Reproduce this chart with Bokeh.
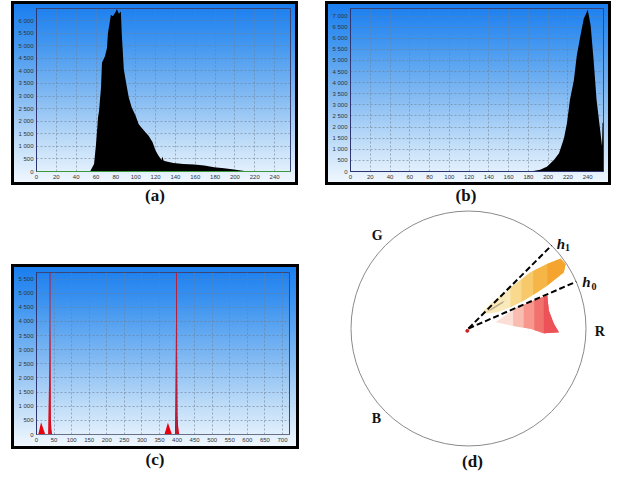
from bokeh.plotting import figure
from bokeh.layouts import row, column
from bokeh.models import Range1d, FixedTicker, Spacer, Div, Span
from bokeh.core.properties import value
from bokeh.embed import file_html
from bokeh.resources import INLINE
import math

# ---------------- data ----------------
x_ticks_ab = [0, 20, 40, 60, 80, 100, 120, 140, 160, 180, 200, 220, 240]
x_labels_ab = ["0", "20", "40", "60", "80", "100", "120", "140", "160", "180", "200", "220", "240"]

y_ticks_a = [0, 500, 1000, 1500, 2000, 2500, 3000, 3500, 4000, 4500, 5000, 5500, 6000]
y_labels_a = ["0", "500", "1 000", "1 500", "2 000", "2 500", "3 000", "3 500", "4 000", "4 500", "5 000", "5 500", "6 000"]

y_ticks_b = [0, 500, 1000, 1500, 2000, 2500, 3000, 3500, 4000, 4500, 5000, 5500, 6000, 6500, 7000]
y_labels_b = ["0", "500", "1 000", "1 500", "2 000", "2 500", "3 000", "3 500", "4 000", "4 500", "5 000", "5 500", "6 000", "6 500", "7 000"]

x_ticks_c = [0, 50, 100, 150, 200, 250, 300, 350, 400, 450, 500, 550, 600, 650, 700]
x_labels_c = ["0", "50", "100", "150", "200", "250", "300", "350", "400", "450", "500", "550", "600", "650", "700"]
y_ticks_c = [0, 500, 1000, 1500, 2000, 2500, 3000, 3500, 4000, 4500, 5000, 5500]
y_labels_c = ["0", "500", "1 000", "1 500", "2 000", "2 500", "3 000", "3 500", "4 000", "4 500", "5 000", "5 500"]

# (a) histogram
a_x = [0, 54, 56, 58, 60, 62, 63, 65, 66, 69, 71, 72, 75, 77, 80, 81, 83, 85, 86, 88,
       90, 93, 96, 100, 103, 107, 110, 113, 117, 120, 123, 126, 127, 128, 130, 138, 148, 159, 169, 179,
       189, 199, 206, 213, 256]
a_y = [0, 0, 150, 300, 1090, 2150, 2400, 3330, 4320, 4580, 4910, 5500, 6230, 6170, 6360, 6460, 6270, 6360, 5440, 4060,
       3600, 2940, 2540, 2210, 1880, 1690, 1550, 1420, 1160, 830, 630, 460, 600, 440, 410, 340, 300, 275, 240, 170,
       130, 80, 40, 0, 0]

# (b) histogram
b_x = [0, 182, 192, 199, 206, 211, 216, 219, 222, 226, 229, 233, 236, 239, 240, 243, 246, 249, 253, 254.5, 255, 256]
b_y = [0, 0, 76, 225, 525, 825, 1500, 2170, 3215, 4110, 5230, 6200, 6880, 7170, 7300, 6580, 5010, 3215, 1720, 1150, 2200, 2200]

# (c) histogram
c_x = [0, 5, 13, 25, 33, 35, 37, 38, 39.5, 41, 42.5, 44.5, 360, 364, 374, 385.5, 394, 396, 397.7, 399.6, 401.5, 403, 406, 720]
c_y = [0, 0, 430, 0, 0, 1390, 2620, 3970, 3260, 500, 200, 0, 0, 0, 420, 0, 0, 2600, 4910, 3300, 720, 300, 0, 0]
c_spike_x = [38.5, 398.5]
c_spike_y = [5730, 5730]

# (d) hue circle (unit circle = outer ring); colour clusters as layered regions
orange_xs = [
    [0.13, 0.20, 0.357, 0.528, 0.67, 0.783, 0.826, 0.811, 0.67, 0.585, 0.471, 0.357, 0.244, 0.145],
    [0.357, 0.528, 0.67, 0.783, 0.826, 0.811, 0.67, 0.585, 0.471, 0.357],
    [0.45, 0.528, 0.67, 0.783, 0.826, 0.811, 0.67, 0.585, 0.471, 0.45],
    [0.55, 0.67, 0.783, 0.826, 0.811, 0.67, 0.585, 0.55],
    [0.67, 0.783, 0.826, 0.811, 0.67],
]
orange_ys = [
    [0.153, 0.224, 0.346, 0.479, 0.55, 0.593, 0.55, 0.479, 0.366, 0.309, 0.238, 0.181, 0.139, 0.125],
    [0.346, 0.479, 0.55, 0.593, 0.55, 0.479, 0.366, 0.309, 0.238, 0.181],
    [0.418, 0.479, 0.55, 0.593, 0.55, 0.479, 0.366, 0.309, 0.238, 0.227],
    [0.49, 0.55, 0.593, 0.55, 0.479, 0.366, 0.309, 0.287],
    [0.55, 0.593, 0.55, 0.479, 0.366],
]
orange_colors = ["#fae8b6", "#f9d88a", "#f8c868", "#f6b446", "#f4a42e"]

pink_xs = [
    [0.23, 0.414, 0.556, 0.67, 0.683, 0.726, 0.769, 0.641, 0.528, 0.357],
    [0.38, 0.414, 0.556, 0.67, 0.683, 0.726, 0.769, 0.641, 0.528, 0.38],
    [0.47, 0.556, 0.67, 0.683, 0.726, 0.769, 0.641, 0.528, 0.47],
    [0.56, 0.67, 0.683, 0.726, 0.769, 0.641, 0.56],
    [0.64, 0.67, 0.683, 0.726, 0.769, 0.641],
]
pink_ys = [
    [0.054, 0.181, 0.238, 0.281, 0.153, 0.04, -0.031, -0.04, -0.003, 0.026],
    [0.158, 0.181, 0.238, 0.281, 0.153, 0.04, -0.031, -0.04, -0.003, 0.022],
    [0.203, 0.238, 0.281, 0.153, 0.04, -0.031, -0.04, -0.003, 0.007],
    [0.24, 0.281, 0.153, 0.04, -0.031, -0.04, -0.013],
    [0.27, 0.281, 0.153, 0.04, -0.031, -0.04],
]
pink_colors = ["#fbdcd4", "#f8baae", "#f5948a", "#f0706c", "#eb5056"]

smudge_x = [0.15, 0.24, 0.31, 0.29, 0.20]
smudge_y = [0.14, 0.20, 0.24, 0.215, 0.16]
hue_angles = [23.5, 45.0]          # h0, h1 (degrees)
axis_names = ["R", "G", "B"]
axis_label_x = [1.117, -0.777, -0.783]
axis_label_y = [-0.023, 0.791, -0.769]

GRADIENT = ("linear-gradient(to bottom, #177cef 0%, #3f95f0 22%, #7fb8f2 50%, "
            "#c2def8 78%, #f3f9ff 100%)")


def hist_fig(w, h, xr, yr, xt, xl, yt, yl, bl, br, bt, bb, base_color):
    p = figure(width=w, height=h, x_range=Range1d(*xr), y_range=Range1d(*yr),
               output_backend="svg", toolbar_location=None,
               min_border_left=bl, min_border_right=br, min_border_top=bt, min_border_bottom=bb)
    p.margin = 0
    p.background_fill_color = None
    p.border_fill_color = None
    p.styles = {"background": GRADIENT, "outline": "3px solid #000", "outline-offset": "-3px"}
    p.outline_line_color = "#3a4578"
    p.outline_line_width = 1
    p.xaxis.ticker = FixedTicker(ticks=xt)
    p.yaxis.ticker = FixedTicker(ticks=yt)
    p.xaxis.major_label_overrides = {t: s for t, s in zip(xt, xl)}
    p.yaxis.major_label_overrides = {t: s for t, s in zip(yt, yl)}
    for ax in (p.xaxis[0], p.yaxis[0]):
        ax.major_tick_line_color = None
        ax.minor_tick_line_color = None
        ax.major_tick_in = 0
        ax.major_tick_out = 0
        ax.minor_tick_out = 0
        ax.major_label_text_font_size = "6px"
        ax.major_label_text_font = "Liberation Sans"
        ax.major_label_text_color = "#333333"
        ax.major_label_standoff = 3
    p.yaxis.axis_line_color = "#2c3570"
    p.xaxis.axis_line_color = base_color
    p.grid.grid_line_color = "#6f7f92"
    p.grid.grid_line_dash = "2 2"
    p.grid.grid_line_alpha = 0.6
    return p


# (a)
pa = hist_fig(287, 184, (0, 256), (0, 6480), x_ticks_ab, x_labels_ab, y_ticks_a, y_labels_a,
              25, 8, 6, 14, "#3c9a3c")
pa.varea(x=a_x, y1=0, y2=a_y, color="#000000")
pa.add_layout(Span(location=0, dimension="width", line_color="#3c9a3c", line_width=1))

# (b)
pb = hist_fig(286, 184, (0, 256), (0, 7340), x_ticks_ab, x_labels_ab, y_ticks_b, y_labels_b,
              25, 8, 7, 13, "#2c3570")
pb.varea(x=b_x, y1=0, y2=b_y, color="#000000")

# (c)
pc = hist_fig(288, 185, (0, 720), (0, 5730), x_ticks_c, x_labels_c, y_ticks_c, y_labels_c,
              25, 10, 8, 15, "#6a7088")
pc.varea(x=c_x, y1=0, y2=c_y, color="#e8000a")
pc.segment(x0=c_spike_x, y0=0, x1=c_spike_x, y1=c_spike_y, line_color="#b8203c", line_width=1)

# (d)
R_PX = 117.5
wd, hd = 307, 270
cx_px, cy_px = 158, 121
pd_ = figure(width=wd, height=hd,
             x_range=Range1d(-cx_px / R_PX, (wd - cx_px) / R_PX),
             y_range=Range1d(-(hd - cy_px) / R_PX, cy_px / R_PX),
             output_backend="svg", toolbar_location=None,
             min_border=0, min_border_left=0, min_border_right=0, min_border_top=0, min_border_bottom=0)
pd_.margin = 0
pd_.axis.visible = False
pd_.grid.visible = False
pd_.outline_line_color = None
pd_.background_fill_color = None
pd_.border_fill_color = None

pd_.circle(x=[0], y=[0], radius=1.0, fill_color=None, line_color="#8a8a8a", line_width=1)
pd_.patches(xs=orange_xs, ys=orange_ys, fill_color=orange_colors, line_color=None, fill_alpha=0.95)
pd_.patch(smudge_x, smudge_y, fill_color="#5a5040", line_color=None, fill_alpha=0.4)
pd_.patches(xs=pink_xs, ys=pink_ys, fill_color=pink_colors, line_color=None, fill_alpha=0.95)

ends_x = [math.cos(math.radians(a)) * 1.0 for a in hue_angles]
ends_y = [math.sin(math.radians(a)) * 1.0 for a in hue_angles]
pd_.segment(x0=[0, 0], y0=[0, 0], x1=ends_x, y1=ends_y, line_color="#000000",
            line_width=2, line_dash="6 3")
pd_.scatter(x=[-0.01], y=[-0.02], size=3, color="#d02020")

pd_.text(x=axis_label_x, y=axis_label_y, text=axis_names, text_font=value("Liberation Serif"),
         text_font_style="bold", text_font_size="14px", text_align="center",
         text_baseline="middle", text_color="#111111")
# h labels
pd_.text(x=[(560.5 - 468) / R_PX, (586 - 468) / R_PX], y=[(328 - 243) / R_PX, (328 - 281) / R_PX],
         text=["h", "h"], text_font=value("Liberation Serif"), text_font_style="bold italic",
         text_font_size="15px", text_align="center", text_baseline="middle", text_color="#111111")
pd_.text(x=[(567 - 468) / R_PX, (593.5 - 468) / R_PX], y=[(328 - 247) / R_PX, (328 - 286) / R_PX],
         text=["1", "0"], text_font=value("Liberation Serif"), text_font_style="bold",
         text_font_size="10px", text_align="center", text_baseline="middle", text_color="#111111")
pd_.text(x=[(472 - 468) / R_PX], y=[(328 - 461) / R_PX], text=["(d)"],
         text_font=value("Liberation Serif"), text_font_style="bold", text_font_size="17px",
         text_align="center", text_baseline="middle", text_color="#111111")


def caption(txt, w, h, pad_left=0):
    return Div(text=('<div style="width:%dpx;text-align:center;font-family:\'Liberation Serif\';'
                     'font-weight:bold;font-size:17px;line-height:22px;padding-left:%dpx;'
                     'box-sizing:border-box;color:#111">%s</div>') % (w, pad_left, txt),
               width=w, height=h, margin=0)


top_row = row(Spacer(width=11, height=184, margin=0), pa, Spacer(width=27, height=184, margin=0), pb,
              spacing=0, margin=0)
cap_row = row(caption("(a)", 310, 22), caption("(b)", 307, 22, 5), spacing=0, margin=0)
left_bottom = column(Spacer(width=310, height=57, margin=0),
                     row(Spacer(width=11, height=185, margin=0), pc, Spacer(width=11, height=185, margin=0),
                         spacing=0, margin=0),
                     caption("(c)", 310, 28),
                     spacing=0, margin=0)
bottom_row = row(left_bottom, pd_, spacing=0, margin=0)
layout = column(Spacer(width=617, height=1, margin=0), top_row, cap_row, bottom_row, spacing=0, margin=0)

open("out.html", "w").write(file_html(layout, INLINE))
